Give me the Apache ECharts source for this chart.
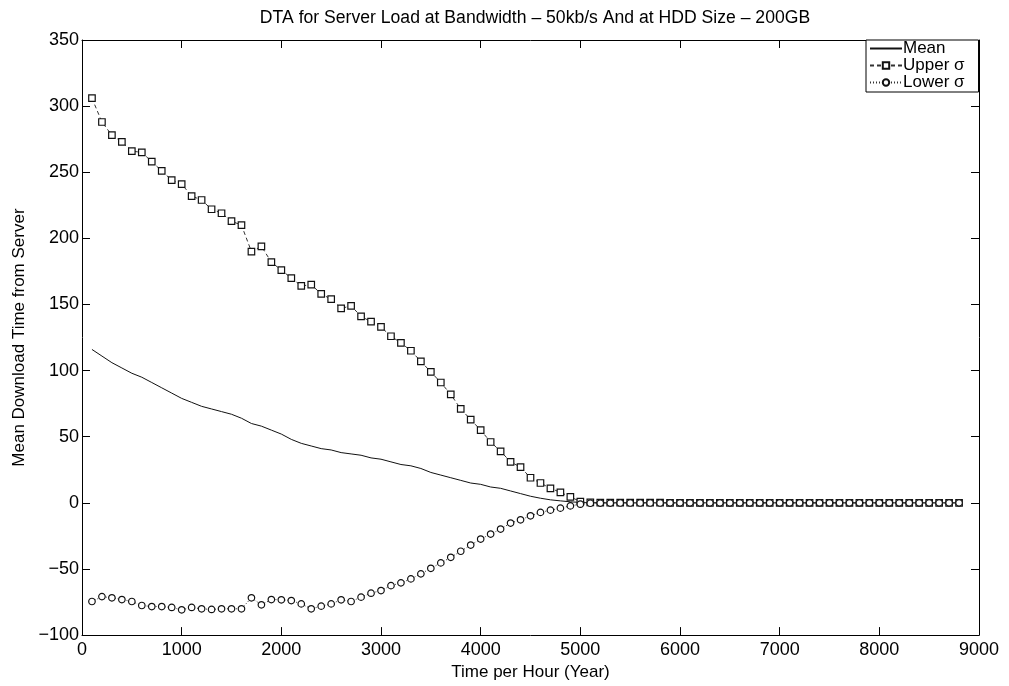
<!DOCTYPE html>
<html>
<head>
<meta charset="utf-8">
<script src="https://cdn.jsdelivr.net/npm/echarts@6/dist/echarts.min.js"></script>
<style>
html,body{margin:0;padding:0;background:#fff;}
#c{width:1009px;height:686px;}
</style>
</head>
<body>
<div id="c"></div>
<script>
// x positions (Time per Hour)
var xValues = [100,200,300,400,500,600,700,800,900,1000,1100,1200,1300,1400,1500,1600,1700,1800,1900,2000,
  2100,2200,2300,2400,2500,2600,2700,2800,2900,3000,3100,3200,3300,3400,3500,3600,3700,3800,3900,4000,
  4100,4200,4300,4400,4500,4600,4700,4800,4900,5000,5100,5200,5300,5400,5500,5600,5700,5800,5900,6000,
  6100,6200,6300,6400,6500,6600,6700,6800,6900,7000,7100,7200,7300,7400,7500,7600,7700,7800,7900,8000,
  8100,8200,8300,8400,8500,8600,8700,8800];

var meanValues = [116,111,106,102,98,95,91,87,83,79,76,73,71,69,67,64,60,58,55,52,
  48,45,43,41,40,38,37,36,34,33,31,29,28,26,23,21,19,17,15,14,
  12,11,9,7,5,3.5,2.3,1.5,0.8,0.3,0,0,0,0,0,0,0,0,0,0,
  0,0,0,0,0,0,0,0,0,0,0,0,0,0,0,0,0,0,0,0,
  0,0,0,0,0,0,0,0];

var upperValues = [306,288,278,273,266,265,258,251,244,241,232,229,222,219,213,210,190,194,182,176,
  170,164,165,158,154,147,149,141,137,133,126,121,115,107,99,91,82,71,63,55,
  46,39,31,27,19,15,11,8,4.5,1,0.3,0.2,0.2,0.1,0.1,0.1,0.1,0.1,0,0,
  0,0,0,0,0,0,0,0,0,0,0,0,0,0,0,0,0,0,0,0,
  0,0,0,0,0,0,0,0];

var lowerValues = [-74.6,-70.9,-71.8,-73.1,-74.6,-77.6,-78.4,-78.4,-79.1,-80.9,-79.1,-80.1,-80.6,-80.1,-80.1,-80.1,-71.8,-77.1,-73.1,-73.3,
  -73.9,-76.4,-80.1,-78.1,-76.4,-73.3,-74.6,-71.3,-68.3,-66.3,-62.6,-60.5,-57.5,-53.7,-49.5,-45.4,-41.2,-36.6,-31.9,-27.4,
  -23.6,-19.8,-15.3,-12.8,-9.8,-7.2,-5.5,-4.0,-2.3,-1.0,-0.3,-0.2,-0.2,-0.1,-0.1,-0.1,-0.1,-0.1,0,0,
  0,0,0,0,0,0,0,0,0,0,0,0,0,0,0,0,0,0,0,0,
  0,0,0,0,0,0,0,0];

var seriesNames = ['Mean', 'Upper σ', 'Lower σ'];
var titleText = 'DTA for Server Load at Bandwidth – 50kb/s And at HDD Size – 200GB';
var xName = 'Time per Hour (Year)';
var yName = 'Mean Download Time from Server';

function pairs(vals){ return xValues.map(function(x,i){ return [x, vals[i]]; }); }
function fmt(v){ return v < 0 ? '\u2212' + String(-v) : String(v); }

var FONT = 'Liberation Sans, Arial, Helvetica, sans-serif';
var chart = echarts.init(document.getElementById('c'), null, {renderer:'canvas'});
var axisLine = {show:true, onZero:false, lineStyle:{color:'#000', width:1}};
var tick = {show:true, inside:true, length:8, lineStyle:{color:'#000', width:1}};
var lbl = {color:'#000', fontSize:18, fontFamily:FONT, formatter:fmt};

chart.setOption({
  animation:false,
  backgroundColor:'#fff',
  title:{text:titleText, left:530, textAlign:'center', top:4,
    textStyle:{color:'#000', fontSize:17.6, fontWeight:'normal', fontFamily:FONT}},
  grid:{left:82, right:30, top:40, bottom:49, containLabel:false},
  legend:{
    data:[
      {name:seriesNames[0], itemStyle:{opacity:0}},
      {name:seriesNames[1]},
      {name:seriesNames[2]}
    ],
    orient:'vertical', left:866, top:40,
    backgroundColor:'#fff', borderColor:'#000', borderWidth:1, borderRadius:0,
    padding:[0,14,1,3], itemGap:0, itemWidth:32, itemHeight:8,
    textStyle:{color:'#000', fontSize:17, fontFamily:FONT, padding:[0,0,0,-4]}
  },
  xAxis:[
    {type:'value', min:0, max:9000, interval:1000, position:'bottom',
     name:xName, nameLocation:'middle', nameGap:26,
     nameTextStyle:{color:'#000', fontSize:17, fontFamily:FONT},
     axisLine:axisLine, axisTick:tick, axisLabel:Object.assign({margin:6}, lbl), splitLine:{show:false}},
    {type:'value', min:0, max:9000, interval:1000, position:'top',
     axisLine:axisLine, axisTick:tick, axisLabel:{show:false}, splitLine:{show:false}}
  ],
  yAxis:[
    {type:'value', min:-100, max:350, interval:50, position:'left',
     name:yName, nameLocation:'middle', nameGap:54, nameRotate:90,
     nameTextStyle:{color:'#000', fontSize:17, fontFamily:FONT},
     axisLine:axisLine, axisTick:tick, axisLabel:Object.assign({margin:3}, lbl), splitLine:{show:false}},
    {type:'value', min:-100, max:350, interval:50, position:'right',
     axisLine:axisLine, axisTick:tick, axisLabel:{show:false}, splitLine:{show:false}}
  ],
  series:[
    {name:seriesNames[0], type:'line', data:pairs(meanValues), symbol:'circle', symbolSize:0, showSymbol:false,
     lineStyle:{color:'#111', width:1, type:'solid'}, itemStyle:{color:'#111'}},
    {name:seriesNames[1], type:'line', data:pairs(upperValues), symbol:'rect', symbolSize:6.5, showAllSymbol:true,
     lineStyle:{color:'#333', width:1, type:[4,3]},
     itemStyle:{color:'#fff', borderColor:'#111', borderWidth:1.2}},
    {name:seriesNames[2], type:'line', data:pairs(lowerValues), symbol:'circle', symbolSize:6.5, showAllSymbol:true,
     lineStyle:{color:'#333', width:1, type:[1,2]},
     itemStyle:{color:'#fff', borderColor:'#111', borderWidth:1.2}}
  ]
});
</script>
</body>
</html>
